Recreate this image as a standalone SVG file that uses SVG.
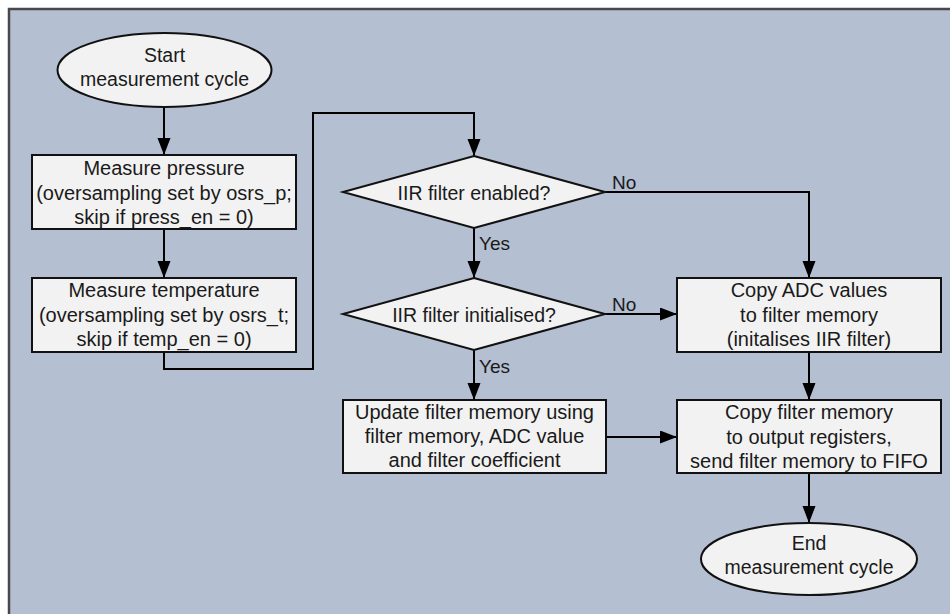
<svg xmlns="http://www.w3.org/2000/svg" width="950" height="614" viewBox="0 0 950 614">
<defs>
<style>
.bg{fill:#b4bfd2;stroke:#4a484e;stroke-width:2.5}
.n{fill:#f2f2f2;stroke:#111;stroke-width:2}
.t{font-family:"Liberation Sans",Arial,sans-serif;font-size:19.5px;fill:#1a1a1a;text-anchor:middle;dominant-baseline:central}
.b{font-size:20px}
.l{font-family:"Liberation Sans",Arial,sans-serif;font-size:19px;fill:#1a1a1a;dominant-baseline:central}
.c{fill:none;stroke:#000;stroke-width:2}
</style>
<marker id="ah" markerUnits="userSpaceOnUse" markerWidth="18" markerHeight="14" refX="17" refY="6.5" orient="auto">
<path d="M0,0 L17,6.5 L0,13 z" fill="#000"/>
</marker>
</defs>
<rect class="bg" x="9" y="9" width="950" height="620"/>
<g id="connectors">
<line class="c" x1="164" y1="107" x2="164" y2="155" marker-end="url(#ah)"/>
<line class="c" x1="164" y1="229" x2="164" y2="278" marker-end="url(#ah)"/>
<polyline class="c" points="164,352 164,369 313,369 313,113 474,113 474,156" marker-end="url(#ah)"/>
<line class="c" x1="474" y1="228" x2="474" y2="278" marker-end="url(#ah)"/>
<polyline class="c" points="605,192 809,192 809,278" marker-end="url(#ah)"/>
<line class="c" x1="605" y1="314" x2="677" y2="314" marker-end="url(#ah)"/>
<line class="c" x1="474" y1="350" x2="474" y2="400" marker-end="url(#ah)"/>
<line class="c" x1="809" y1="352" x2="809" y2="400" marker-end="url(#ah)"/>
<line class="c" x1="606" y1="437" x2="677" y2="437" marker-end="url(#ah)"/>
<line class="c" x1="809" y1="473" x2="809" y2="523" marker-end="url(#ah)"/>
<text class="l" x="612" y="182">No</text>
<text class="l" x="612" y="304">No</text>
<text class="l" x="479" y="243">Yes</text>
<text class="l" x="479" y="366">Yes</text>
</g>
<g id="start">
<ellipse class="n" cx="164.5" cy="70" rx="107" ry="37"/>
<text class="t" x="164.5" y="55">Start</text>
<text class="t" x="164.5" y="79">measurement cycle</text>
</g>
<g id="pressure">
<rect class="n" x="32" y="155" width="264" height="74"/>
<text class="t b" x="164" y="168">Measure pressure</text>
<text class="t b" x="164" y="193">(oversampling set by osrs_p;</text>
<text class="t b" x="164" y="217">skip if press_en = 0)</text>
</g>
<g id="temperature">
<rect class="n" x="32" y="278" width="264" height="74"/>
<text class="t b" x="164" y="290">Measure temperature</text>
<text class="t b" x="164" y="315">(oversampling set by osrs_t;</text>
<text class="t b" x="164" y="339">skip if temp_en = 0)</text>
</g>
<g id="enabled">
<polygon class="n" points="474,156 605,192 474,228 343,192"/>
<text class="t" x="474" y="193">IIR filter enabled?</text>
</g>
<g id="initialised">
<polygon class="n" points="474,278 605,314 474,350 343,314"/>
<text class="t" x="474" y="315">IIR filter initialised?</text>
</g>
<g id="copyadc">
<rect class="n" x="677" y="278" width="264" height="74"/>
<text class="t b" x="809" y="290">Copy ADC values</text>
<text class="t b" x="809" y="315">to filter memory</text>
<text class="t b" x="809" y="339">(initalises IIR filter)</text>
</g>
<g id="update">
<rect class="n" x="343" y="400" width="263" height="73"/>
<text class="t b" x="474.5" y="412">Update filter memory using</text>
<text class="t b" x="474.5" y="436">filter memory, ADC value</text>
<text class="t b" x="474.5" y="460">and filter coefficient</text>
</g>
<g id="copyfilter">
<rect class="n" x="677" y="400" width="264" height="73"/>
<text class="t b" x="809" y="412">Copy filter memory</text>
<text class="t b" x="809" y="437">to output registers,</text>
<text class="t b" x="809" y="461">send filter memory to FIFO</text>
</g>
<g id="end">
<ellipse class="n" cx="809" cy="559" rx="108" ry="36"/>
<text class="t" x="809" y="543">End</text>
<text class="t" x="809" y="567">measurement cycle</text>
</g>
</svg>
